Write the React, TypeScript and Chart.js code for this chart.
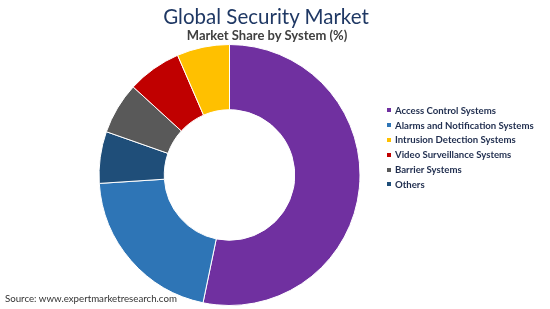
import React, { useEffect, useRef } from "react";
import { Chart, registerables } from "chart.js";

Chart.register(...registerables);

// Slice order as drawn clockwise from 12 o'clock
const categories = [
  "Access Control Systems",
  "Alarms and Notification Systems",
  "Others",
  "Barrier Systems",
  "Video Surveillance Systems",
  "Intrusion Detection Systems",
];
const shares = [53.2, 20.7, 6.4, 6.4, 6.7, 6.5];
const colors = ["#7030A0", "#2E75B6", "#1F4E79", "#595959", "#C00000", "#FFC000"];
// Legend order
const legendOrder = [
  "Access Control Systems",
  "Alarms and Notification Systems",
  "Intrusion Detection Systems",
  "Video Surveillance Systems",
  "Barrier Systems",
  "Others",
];

const titleText = "Global Security Market";
const subtitleText = "Market Share by System (%)";
const sourceText = "Source: www.expertmarketresearch.com";

export default function App() {
  const ref = useRef<HTMLCanvasElement>(null);
  useEffect(() => {
    if (!ref.current) return;
    const chart = new Chart(ref.current, {
      type: "doughnut",
      data: {
        labels: categories,
        datasets: [
          {
            data: shares,
            backgroundColor: colors,
            borderColor: "#ffffff",
            borderWidth: 1,
          },
        ],
      },
      options: {
        animation: false,
        responsive: false,
        maintainAspectRatio: false,
        cutout: "50%",
        layout: { padding: { left: 98, right: 189, top: 44, bottom: 3 } },
        plugins: {
          legend: { display: false },
          tooltip: { enabled: false },
          title: { display: false },
        },
      },
    });
    return () => chart.destroy();
  }, []);

  const font = "Lato, 'Open Sans', sans-serif";
  return (
    <div style={{ position: "absolute", left: 0, top: 0, width: 550, height: 309, background: "#fff", fontFamily: font }}>
      <canvas ref={ref} width={550} height={309} style={{ position: "absolute", left: 0, top: 0, width: 550, height: 309 }} />
      <div style={{ position: "absolute", left: 0, width: 532, top: 3, textAlign: "center", fontSize: 20.5, color: "#1F3864", lineHeight: "26px" }}>
        {titleText}
      </div>
      <div style={{ position: "absolute", left: 0, width: 534, top: 26, textAlign: "center", fontSize: 13, fontWeight: 700, color: "#404040", lineHeight: "18px" }}>
        {subtitleText}
      </div>
      <div style={{ position: "absolute", left: 387, top: 103 }}>
        {legendOrder.map((name) => {
          const c = colors[categories.indexOf(name)];
          return (
            <div key={name} style={{ display: "flex", alignItems: "center", height: 14.8, fontSize: 9.6, fontWeight: 700, color: "#1F2D4E", whiteSpace: "nowrap" }}>
              <span style={{ display: "inline-block", width: 4, height: 4, background: c, marginRight: 4 }} />
              {name}
            </div>
          );
        })}
      </div>
      <div style={{ position: "absolute", left: 5, top: 292, fontSize: 9.7, color: "#333", whiteSpace: "nowrap" }}>
        {sourceText}
      </div>
    </div>
  );
}
